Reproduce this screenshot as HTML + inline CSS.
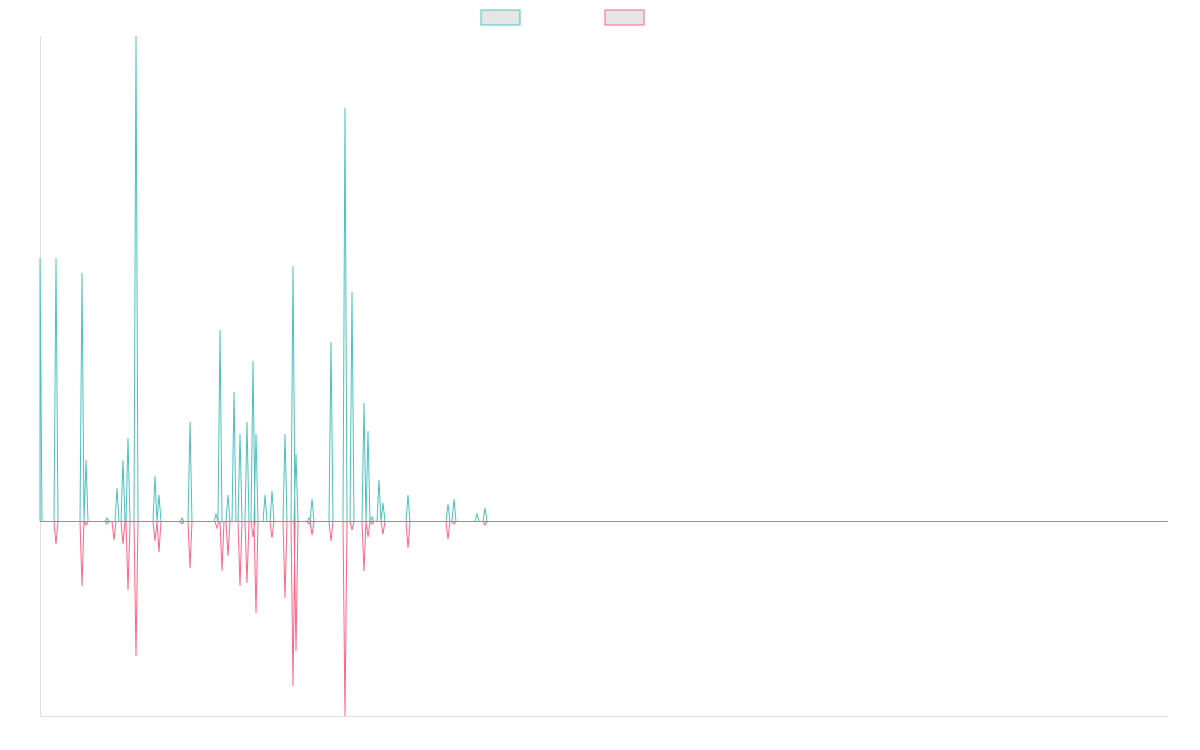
<!DOCTYPE html>
<html><head><meta charset="utf-8"><style>
html,body{margin:0;padding:0;background:#fff;width:1200px;height:750px;overflow:hidden}
</style></head><body>
<svg id="s" width="1200" height="750" xmlns="http://www.w3.org/2000/svg">
<rect x="481" y="10" width="39" height="15" fill="#e6e6e6" stroke="#4bc0c0" stroke-width="1"/>
<rect x="605" y="10" width="39" height="15" fill="#e6e6e6" stroke="#ff6384" stroke-width="1"/>
<line x1="40.5" y1="36" x2="40.5" y2="716" stroke="#e0e0e0"/>
<line x1="40" y1="716.5" x2="1168" y2="716.5" stroke="#e0e0e0"/>
<line x1="40" y1="521.5" x2="1168" y2="521.5" stroke="#888" stroke-width="1"/>
<polyline id="t" fill="none" stroke="#4bc0c0" stroke-width="1"/>
<polyline id="p" fill="none" stroke="#ff6384" stroke-width="1"/>
</svg>
<script>
var B=521.5;
function build(sp){sp.sort(function(a,b){return a[0]-b[0]});var pts=[[40,B]];
for(var i=0;i<sp.length;i++){var x=sp[i][0],y=sp[i][1];
if(x>40)pts.push([x-2,B]);pts.push([x,y]);pts.push([x+2,B]);}
pts.push([1168,B]);return pts.map(function(p){return p[0]+","+p[1]}).join(" ");}
var T=[[40,258],[56,258],[82,273],[86,460],[107,518],[117,488],[123,460],[128,438],[136,36],[155,476],[159,495],[182,518],[190,422],[216,514],[220,330],[228,495],[234,392],[240,434],[247,422],[253,361],[256,434],[265,495],[272,491],[285,434],[293,266],[296,454],[309,518],[312,499],[331,342],[345,108],[352,292],[364,403],[368,431],[372,517],[379,480],[383,503],[408,495],[448,504],[454,499],[477,514],[485,508]];
var P=[[56,544],[82,586],[86,525],[107,524],[114,540],[123,544],[128,590],[136,656],[155,541],[159,552],[182,524],[190,568],[217,528],[222,571],[228,556],[240,586],[247,583],[253,537],[256,613],[272,538],[285,598],[293,686],[296,651],[309,524],[312,535],[331,541],[345,716],[352,530],[364,571],[368,537],[372,524],[383,534],[408,548],[448,539],[454,524],[485,525]];
document.getElementById("t").setAttribute("points",build(T));
document.getElementById("p").setAttribute("points",build(P));
</script>
</body></html>
